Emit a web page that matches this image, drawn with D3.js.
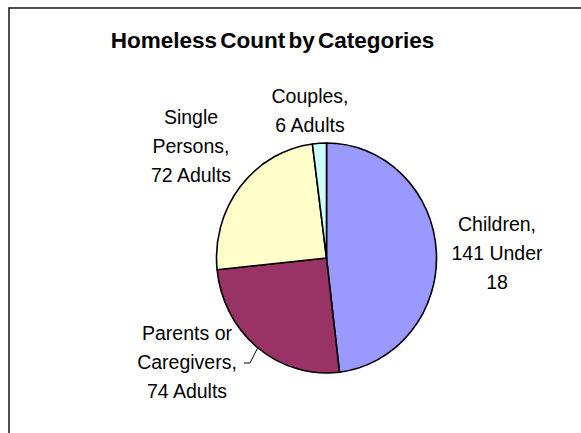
<!DOCTYPE html>
<html>
<head>
<meta charset="utf-8">
<script src="https://cdn.jsdelivr.net/npm/d3@7/dist/d3.min.js"></script>
<style>
  html, body { margin: 0; padding: 0; background: #fff; }
  svg { display: block; }
  text { font-family: "Liberation Sans", Arial, sans-serif; fill: #000; }
</style>
</head>
<body>
<svg id="chart" width="581" height="433"></svg>
<script>
const categories = ["Children", "Parents or Caregivers", "Single Persons", "Couples"];
const values = [141, 74, 72, 6];
const labelLines = [
  ["Children,", "141 Under", "18"],
  ["Parents or", "Caregivers,", "74 Adults"],
  ["Single", "Persons,", "72 Adults"],
  ["Couples,", "6 Adults"]
];
const colors = ["#9999FF", "#993366", "#FFFFCC", "#CCFFFF"];
const title = "Homeless Count by Categories";

const svg = d3.select("#chart");
const W = 581, H = 433;

svg.append("rect").attr("width", W).attr("height", H).attr("fill", "#fff");
// chart frame (extends past right/bottom edges)
svg.append("rect")
  .attr("x", 9).attr("y", 8).attr("width", 600).attr("height", 460)
  .attr("fill", "#fff").attr("stroke", "#222").attr("stroke-width", 1.6);

svg.append("text")
  .attr("x", 272.5).attr("y", 48)
  .attr("text-anchor", "middle")
  .style("font-weight", "bold").style("font-size", "22.5px")
  .style("word-spacing", "-3px")
  .text(title);

const cx = 326.5, cy = 258, rx = 110, ry = 115;
const pie = d3.pie().sort(null).value(d => d)(values);
const arc = d3.arc().innerRadius(0).outerRadius(rx);

const g = svg.append("g").attr("transform", `translate(${cx},${cy}) scale(1,${ry / rx})`);
g.selectAll("path").data(pie).join("path")
  .attr("d", arc)
  .attr("fill", (d, i) => colors[i])
  .attr("stroke", "#000")
  .attr("stroke-width", 1.6)
  .attr("vector-effect", "non-scaling-stroke")
  .attr("stroke-linejoin", "round");

// label anchor positions (center x, first baseline)
const labelPos = [
  [497, 231],
  [187, 340],
  [191, 124],
  [310, 103]
];
const lineH = 29;
labelLines.forEach((lines, i) => {
  const t = svg.append("text")
    .attr("text-anchor", "middle")
    .style("font-size", "19.5px");
  lines.forEach((s, j) => {
    t.append("tspan").attr("x", labelPos[i][0]).attr("y", labelPos[i][1] + j * lineH).text(s);
  });
});

// leader line for Parents slice
const mid = (pie[1].startAngle + pie[1].endAngle) / 2;
const ex = cx + rx * Math.sin(mid), ey = cy - ry * Math.cos(mid);
svg.append("polyline")
  .attr("points", `244,363 250,363 ${ex},${ey}`)
  .attr("fill", "none").attr("stroke", "#000").attr("stroke-width", 1);
</script>
</body>
</html>
